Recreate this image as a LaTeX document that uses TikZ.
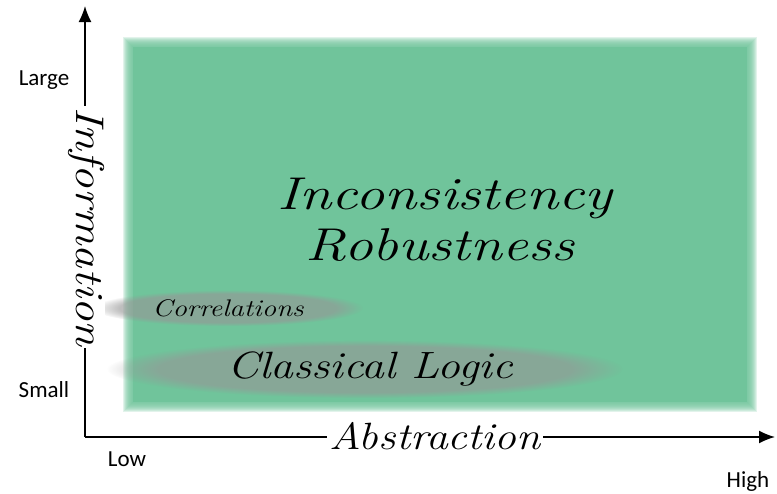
\documentclass[tikz,border=0pt]{standalone}
\usepackage{fontspec}
\setsansfont{Carlito}
\usetikzlibrary{fadings,arrows.meta}
\definecolor{boxgreen}{RGB}{112,196,155}
\definecolor{blobgray}{RGB}{150,150,150}
\tikzset{
  axislbl/.style={font=\sffamily\fontsize{23}{23}\selectfont, text=black, inner sep=0pt},
  hand/.style={font=\itshape, text=black, inner sep=1pt},
  blob/.style={fill=blobgray, opacity=0.62, path fading=circle with fuzzy edge 20 percent, fit fading=true},
  axisline/.style={line width=1.6pt, -{Latex[length=16pt,width=13pt]}},
}
\begin{document}
\begin{tikzpicture}[x=1pt,y=-1pt]
\useasboundingbox (0,0) rectangle (777,493);
% blurred green box
\foreach \d in {5,4,3,2,1,0,-1,-2,-3,-4}{
  \fill[boxgreen, opacity=0.2] (128-\d,42-\d) rectangle (752+\d,407+\d);
}
\fill[boxgreen] (133,47) rectangle (747,402);
% grey blobs
\fill[blob] (228,308) ellipse[x radius=135, y radius=18];
\fill[blob] (365,369) ellipse[x radius=258, y radius=29];
% axes
\coordinate (O) at (85,437);
\coordinate (ytip) at (85,6);
\coordinate (xtip) at (775,437);
\draw[axisline] (O) -- (ytip);
\draw[axisline] (O) -- (xtip);
% axis titles
\node[hand, fill=white, rotate=-90, font=\itshape\fontsize{40}{40}\selectfont, xscale=1.17] (info) at (86,227) {Information};
\node[hand, fill=white, font=\itshape\fontsize{38}{38}\selectfont, xscale=1.15, inner sep=2pt] (abs) at (435,436) {Abstraction};
% axis labels
\node[axislbl] (large) at (44,80) {Large};
\node[axislbl] (small) at (44,390) {Small};
\node[axislbl] (low) at (127,459) {Low};
\node[axislbl] (high) at (748,481) {High};
% texts
\node[hand, font=\itshape\fontsize{46}{46}\selectfont, xscale=1.27] (inc) at (445,198) {Inconsistency};
\node[hand, font=\itshape\fontsize{46}{46}\selectfont, xscale=1.25] (rob) at (440,245) {Robustness};
\node[hand, font=\itshape\fontsize{24}{24}\selectfont, xscale=1.2] (corr) at (228,308) {Correlations};
\node[hand, font=\itshape\fontsize{38}{38}\selectfont, xscale=1.2] (cl) at (370,369) {Classical Logic};
\end{tikzpicture}
\end{document}
